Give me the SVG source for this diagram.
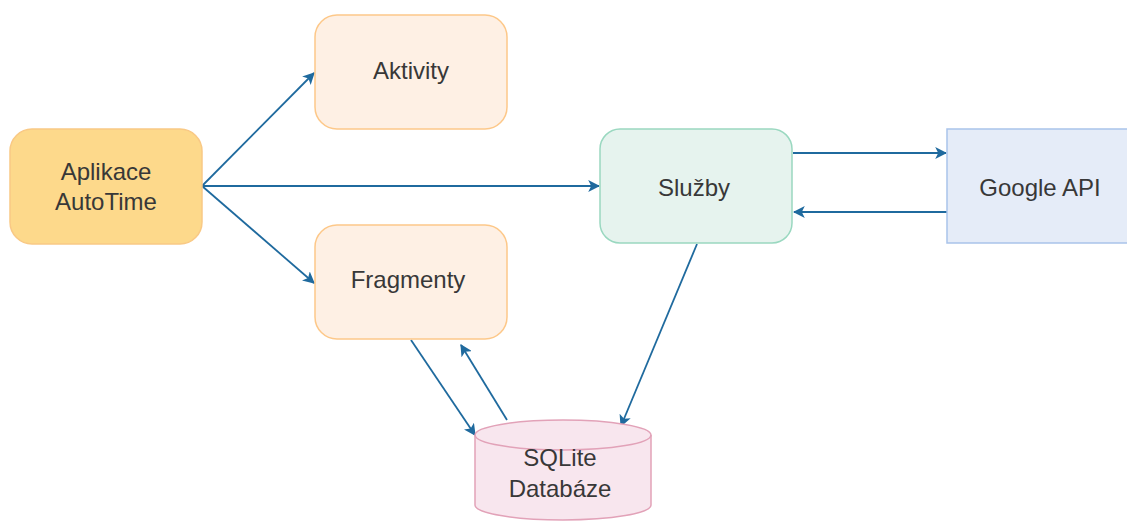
<svg xmlns="http://www.w3.org/2000/svg" width="1127" height="522" viewBox="0 0 1127 522">
<defs>
<marker id="arr" viewBox="0 0 10 10" refX="9" refY="5" markerWidth="12" markerHeight="12" markerUnits="userSpaceOnUse" orient="auto">
<path d="M0,0 L10,5 L0,10 L2.5,5 Z" fill="#1f6a9e"/>
</marker>
<style>
text{font-family:"Liberation Sans",Arial,sans-serif;font-size:24px;fill:#383838;text-anchor:middle}
.c{fill:none;stroke:#1f6a9e;stroke-width:1.8;marker-end:url(#arr)}
</style>
</defs>
<rect width="1127" height="522" fill="#ffffff"/>
<g id="connectors">
<line class="c" x1="202" y1="186" x2="314" y2="73"/>
<line class="c" x1="202" y1="186" x2="599" y2="186"/>
<line class="c" x1="202" y1="186" x2="314" y2="283"/>
<line class="c" x1="793" y1="153" x2="946" y2="153"/>
<line class="c" x1="947" y1="212" x2="794" y2="212"/>
<line class="c" x1="697" y1="244" x2="621" y2="426"/>
<line class="c" x1="411" y1="340" x2="475" y2="435"/>
<line class="c" x1="507" y1="420" x2="461" y2="345"/>
</g>
<g id="aplikace">
<rect x="10" y="129" width="192" height="115" rx="22" fill="#fdd98b" stroke="#f9c985" stroke-width="1.5"/>
<text x="106" y="180">Aplikace</text>
<text x="106" y="210">AutoTime</text>
</g>
<g id="aktivity">
<rect x="315" y="15" width="192" height="114" rx="22" fill="#fef0e4" stroke="#fdc889" stroke-width="1.5"/>
<text x="411" y="79">Aktivity</text>
</g>
<g id="fragmenty">
<rect x="315" y="225" width="192" height="114" rx="22" fill="#fef0e4" stroke="#fdc889" stroke-width="1.5"/>
<text x="408" y="288">Fragmenty</text>
</g>
<g id="sluzby">
<rect x="600" y="129" width="192" height="114" rx="20" fill="#e6f3ee" stroke="#9ad8c0" stroke-width="1.5"/>
<text x="694" y="196">Služby</text>
</g>
<g id="google">
<rect x="947" y="129" width="190" height="114" fill="#e5ecf8" stroke="#a9c3ea" stroke-width="1.5"/>
<text x="1040" y="196">Google API</text>
</g>
<g id="sqlite">
<path d="M475,435 A88,15 0 0 1 651,435 L651,505 A88,15 0 0 1 475,505 Z" fill="#f8e6ee" stroke="#e2a2b8" stroke-width="1.5"/>
<path d="M475,435 A88,15 0 0 0 651,435" fill="none" stroke="#e2a2b8" stroke-width="1.5"/>
<text x="560" y="466">SQLite</text>
<text x="560" y="497">Databáze</text>
</g>
</svg>
